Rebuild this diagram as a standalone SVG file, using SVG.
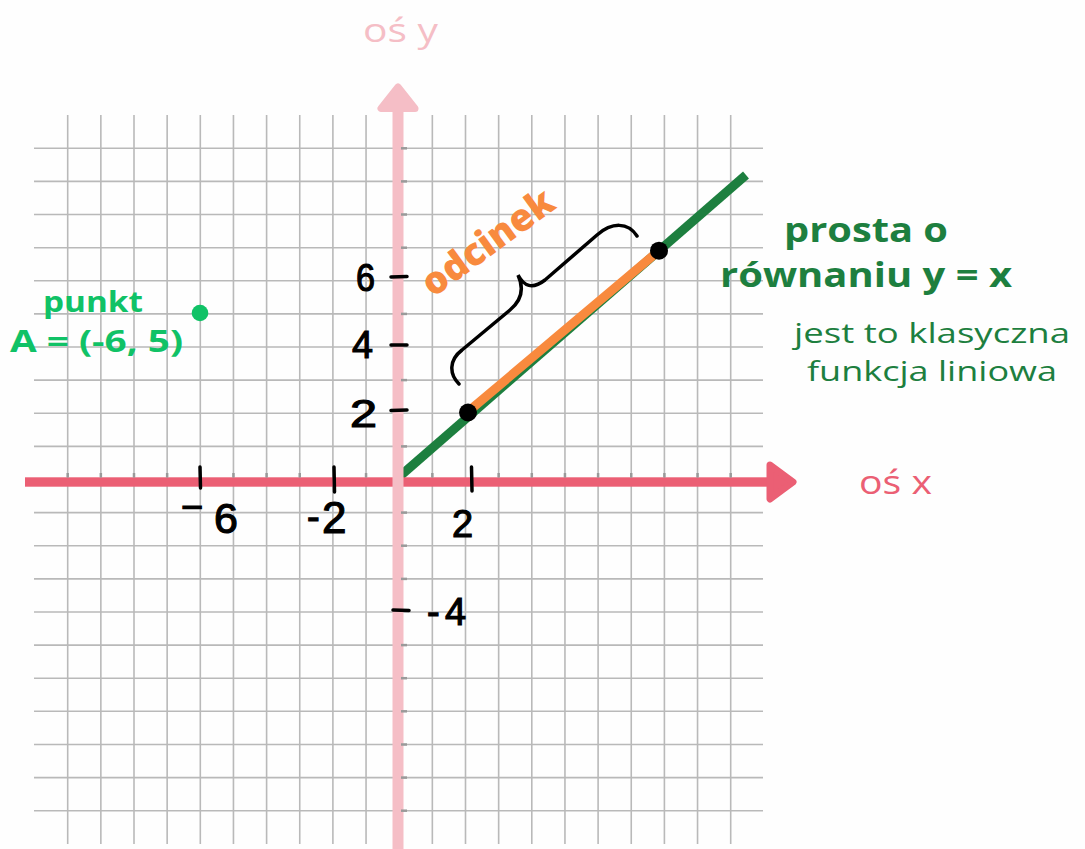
<svg xmlns="http://www.w3.org/2000/svg" width="1085" height="849" viewBox="0 0 1085 849">
<style>
.grid line{stroke:#b9b9b9;stroke-width:1.6}
.tick{stroke:#9a9a9a;stroke-width:2.5}
.hand{stroke:#000;stroke-width:3.5;stroke-linecap:round;fill:none}
.num{font-family:"Liberation Sans","DejaVu Sans",sans-serif;font-size:38px;fill:#000;stroke:#000;stroke-width:1.2}
.sans{font-family:"Open Sans","Noto Sans",sans-serif}
</style>
<rect width="1085" height="849" fill="#fefefe"/>
<g id="grid" class="grid">
<line x1="67.7" y1="115" x2="67.7" y2="844"/><line x1="100.85" y1="115" x2="100.85" y2="844"/><line x1="134" y1="115" x2="134" y2="844"/><line x1="167.15" y1="115" x2="167.15" y2="844"/><line x1="200.3" y1="115" x2="200.3" y2="844"/><line x1="233.45" y1="115" x2="233.45" y2="844"/><line x1="266.6" y1="115" x2="266.6" y2="844"/><line x1="299.75" y1="115" x2="299.75" y2="844"/><line x1="332.9" y1="115" x2="332.9" y2="844"/><line x1="366.05" y1="115" x2="366.05" y2="844"/><line x1="432.35" y1="115" x2="432.35" y2="844"/><line x1="465.5" y1="115" x2="465.5" y2="844"/><line x1="498.65" y1="115" x2="498.65" y2="844"/><line x1="531.8" y1="115" x2="531.8" y2="844"/><line x1="564.95" y1="115" x2="564.95" y2="844"/><line x1="598.1" y1="115" x2="598.1" y2="844"/><line x1="631.25" y1="115" x2="631.25" y2="844"/><line x1="664.4" y1="115" x2="664.4" y2="844"/><line x1="697.55" y1="115" x2="697.55" y2="844"/><line x1="730.7" y1="115" x2="730.7" y2="844"/>
<line x1="34" y1="148.3" x2="763" y2="148.3"/><line x1="34" y1="181.4" x2="763" y2="181.4"/><line x1="34" y1="214.5" x2="763" y2="214.5"/><line x1="34" y1="247.7" x2="763" y2="247.7"/><line x1="34" y1="280.8" x2="763" y2="280.8"/><line x1="34" y1="313.9" x2="763" y2="313.9"/><line x1="34" y1="347" x2="763" y2="347"/><line x1="34" y1="380.1" x2="763" y2="380.1"/><line x1="34" y1="413.3" x2="763" y2="413.3"/><line x1="34" y1="446.4" x2="763" y2="446.4"/><line x1="34" y1="512.6" x2="763" y2="512.6"/><line x1="34" y1="545.7" x2="763" y2="545.7"/><line x1="34" y1="578.9" x2="763" y2="578.9"/><line x1="34" y1="612" x2="763" y2="612"/><line x1="34" y1="645.1" x2="763" y2="645.1"/><line x1="34" y1="678.2" x2="763" y2="678.2"/><line x1="34" y1="711.3" x2="763" y2="711.3"/><line x1="34" y1="744.5" x2="763" y2="744.5"/><line x1="34" y1="777.6" x2="763" y2="777.6"/><line x1="34" y1="810.7" x2="763" y2="810.7"/>
</g>
<g id="connectors">
<line id="line-yx" x1="399" y1="477" x2="746" y2="175" stroke="#1d7f3f" stroke-width="9"/>
<line id="segment" x1="470" y1="410" x2="655" y2="254" stroke="#f88a3e" stroke-width="9"/>
<g id="x-axis" fill="#eb5f74">
<rect x="25" y="477.3" width="745" height="9.4"/>
<polygon points="770,465 793,482 770,499" stroke="#eb5f74" stroke-width="7" stroke-linejoin="round"/>
</g>
<g id="y-axis" fill="#f5bec6">
<rect x="392.5" y="108" width="11" height="741"/>
<polygon points="398,87 381,108.5 415,108.5" stroke="#f5bec6" stroke-width="7" stroke-linejoin="round"/>
</g>
<g id="axis-ticks" class="tick">
<line x1="67.7" y1="473" x2="67.7" y2="477.5"/><line x1="100.85" y1="473" x2="100.85" y2="477.5"/><line x1="134" y1="473" x2="134" y2="477.5"/><line x1="167.15" y1="473" x2="167.15" y2="477.5"/><line x1="233.45" y1="473" x2="233.45" y2="477.5"/><line x1="266.6" y1="473" x2="266.6" y2="477.5"/><line x1="299.75" y1="473" x2="299.75" y2="477.5"/><line x1="366.05" y1="473" x2="366.05" y2="477.5"/><line x1="432.35" y1="473" x2="432.35" y2="477.5"/><line x1="498.65" y1="473" x2="498.65" y2="477.5"/><line x1="531.8" y1="473" x2="531.8" y2="477.5"/><line x1="564.95" y1="473" x2="564.95" y2="477.5"/><line x1="598.1" y1="473" x2="598.1" y2="477.5"/><line x1="631.25" y1="473" x2="631.25" y2="477.5"/><line x1="664.4" y1="473" x2="664.4" y2="477.5"/><line x1="697.55" y1="473" x2="697.55" y2="477.5"/><line x1="730.7" y1="473" x2="730.7" y2="477.5"/>
<line x1="401" y1="148.3" x2="407" y2="148.3"/><line x1="401" y1="181.4" x2="407" y2="181.4"/><line x1="401" y1="214.5" x2="407" y2="214.5"/><line x1="401" y1="247.7" x2="407" y2="247.7"/><line x1="401" y1="313.9" x2="407" y2="313.9"/><line x1="401" y1="380.1" x2="407" y2="380.1"/><line x1="401" y1="446.4" x2="407" y2="446.4"/><line x1="401" y1="512.6" x2="407" y2="512.6"/><line x1="401" y1="545.7" x2="407" y2="545.7"/><line x1="401" y1="578.9" x2="407" y2="578.9"/><line x1="401" y1="645.1" x2="407" y2="645.1"/><line x1="401" y1="678.2" x2="407" y2="678.2"/><line x1="401" y1="711.3" x2="407" y2="711.3"/><line x1="401" y1="744.5" x2="407" y2="744.5"/><line x1="401" y1="777.6" x2="407" y2="777.6"/><line x1="401" y1="810.7" x2="407" y2="810.7"/>
</g>
<path id="brace" class="hand" d="M459,384 C449,374 449,360 462,350 L510,310 C522,300 524,288 518,275 C524,286 532,290 545,280 L597,235 C612,222 628,222 637,236"/>
</g>
<g id="hand-ticks" class="hand">
<line x1="391" y1="277" x2="407" y2="276.5"/>
<line x1="391" y1="345" x2="407" y2="345"/>
<line x1="391" y1="410.5" x2="407" y2="410"/>
<line x1="393" y1="610" x2="409" y2="610.5"/>
<line x1="200" y1="467" x2="200.5" y2="488"/>
<line x1="334" y1="467" x2="334.5" y2="492"/>
<line x1="471.5" y1="467" x2="472" y2="491"/>
</g>
<g id="labels-y">
<text class="num" x="356" y="291" textLength="19" lengthAdjust="spacingAndGlyphs">6</text>
<text class="num" x="352" y="358" textLength="21" lengthAdjust="spacingAndGlyphs">4</text>
<text class="num" x="350" y="427" font-size="28" textLength="27" lengthAdjust="spacingAndGlyphs">2</text>
<text class="num" x="427" y="625" font-size="40">-<tspan x="445">4</tspan></text>
</g>
<g id="labels-x">
<text class="num" x="181" y="520" font-size="40">−<tspan x="214" y="533" font-size="43">6</tspan></text>
<text class="num" x="307" y="530" font-size="40">-<tspan x="322" y="533" font-size="44">2</tspan></text>
<text class="num" x="452" y="537" font-size="44">2</text>
</g>
<g id="point-markers">
<circle id="dot-p1" cx="468" cy="412.5" r="9" fill="#000"/>
<circle id="dot-p2" cx="659" cy="250.7" r="9" fill="#000"/>
<circle id="dot-A" cx="200" cy="313" r="8.3" fill="#10c266"/>
</g>
<g id="axis-y-label"><text class="sans" x="363" y="42" font-size="32" fill="#f5bec6" textLength="75" lengthAdjust="spacingAndGlyphs">oś y</text></g>
<g id="axis-x-label"><text class="sans" x="859" y="494" font-size="32" fill="#eb5f74" textLength="73" lengthAdjust="spacingAndGlyphs">oś x</text></g>
<g id="line-label" class="sans" fill="#1d7f3f">
<text x="784" y="242" font-size="34" font-weight="700" textLength="164" lengthAdjust="spacingAndGlyphs">prosta o</text>
<text x="720" y="287" font-size="34" font-weight="700" textLength="292" lengthAdjust="spacingAndGlyphs">równaniu y = x</text>
<text x="794" y="343" font-size="28" textLength="276" lengthAdjust="spacingAndGlyphs">jest to klasyczna</text>
<text x="807" y="381" font-size="28" textLength="250" lengthAdjust="spacingAndGlyphs">funkcja liniowa</text>
</g>
<g id="point-label" class="sans" fill="#10c266" font-weight="700">
<text x="43" y="312" font-size="28" textLength="100" lengthAdjust="spacingAndGlyphs">punkt</text>
<text x="10" y="352" font-size="31" textLength="173" lengthAdjust="spacingAndGlyphs">A = (-6, 5)</text>
</g>
<g id="segment-label"><text class="sans" x="433" y="298" transform="rotate(-36 433 298)" font-size="38" font-weight="800" fill="#f88a3e" textLength="154" lengthAdjust="spacingAndGlyphs">odcinek</text></g>
</svg>
